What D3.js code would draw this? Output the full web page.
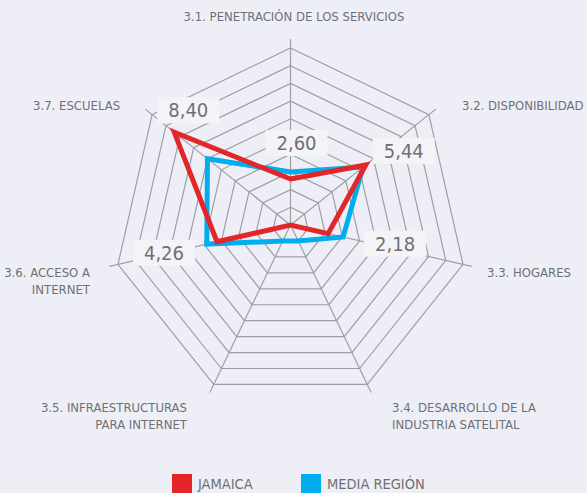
<!DOCTYPE html>
<html><head><meta charset="utf-8">
<script src="https://cdn.jsdelivr.net/npm/d3@7"></script>
<style>
html,body{margin:0;padding:0;background:#eeeff6;}
svg{display:block;}
text{font-family:"DejaVu Sans Condensed","DejaVu Sans",sans-serif;fill:#6e6f75;}
</style></head>
<body>
<svg id="chart" width="587" height="493"></svg>
<script>
// ---- data ----
const categories = [
  ["3.1. PENETRACIÓN DE LOS SERVICIOS"],
  ["3.2. DISPONIBILIDAD"],
  ["3.3. HOGARES"],
  ["3.4. DESARROLLO DE LA", "INDUSTRIA SATELITAL"],
  ["3.5. INFRAESTRUCTURAS", "PARA INTERNET"],
  ["3.6. ACCESO A", "INTERNET"],
  ["3.7. ESCUELAS"]
];
const jamaica = [2.60, 5.44, 2.18, 0, 0, 4.26, 8.40];
const mediaRegion = [3.0, 5.25, 3.05, 1.0, 1.0, 4.85, 6.0];
const seriesNames = ["JAMAICA", "MEDIA REGIÓN"];
const levels = d3.range(1, 11);

// ---- layout ----
const W = 587, H = 493;
const cx = 290.5, cy = 225, R = 177;
const colors = ["#e3262a", "#00aeef"];
// category label anchor points [x, y, anchor]
const catLayout = [
  [294, 21, "middle"],
  [462, 110, "start"],
  [487, 277, "start"],
  [392, 412, "start"],
  [187, 412, "end"],
  [90, 277, "end"],
  [33, 110, "start"]
];
// value label offsets relative to data point
const valOffset = [[6, -36], [38, -14], [67, 10], [0, 0], [0, 0], [-53, 11], [14, -22]];

const svg = d3.select("#chart");
const n = categories.length;
const r = d3.scaleLinear().domain([0, 10]).range([0, R]);
const ang = d3.scaleLinear().domain([0, n]).range([0, 2 * Math.PI]);
const pt = (i, v) => [cx + r(v) * Math.sin(ang(i)), cy - r(v) * Math.cos(ang(i))];

const grid = svg.append("g").attr("stroke", "#9e9fa4").attr("stroke-width", 1.2).attr("fill", "none");
levels.forEach(l => {
  grid.append("path").attr("d", d3.line()(d3.range(n).map(i => pt(i, l))) + "Z");
});
d3.range(n).forEach(i => {
  const [x1, y1] = pt(i, 0), [x2, y2] = pt(i, 10.5);
  grid.append("line").attr("x1", x1).attr("y1", y1).attr("x2", x2).attr("y2", y2);
});

// value labels (Jamaica)
const vl = svg.append("g");
jamaica.forEach((v, i) => {
  if (v <= 0) return;
  const [px, py] = pt(i, v);
  const x = px + valOffset[i][0], y = py + valOffset[i][1];
  const g = vl.append("g");
  g.append("rect").attr("x", x - 31).attr("y", y - 13).attr("width", 62).attr("height", 26).attr("fill", "#f4f4f8");
  g.append("text").attr("x", x).attr("y", y + 7).attr("text-anchor", "middle")
    .attr("font-size", 20).text(d3.format(".2f")(v).replace(".", ","));
});

// series
const line = d3.line();
[mediaRegion, jamaica].forEach((s, k) => {
  const col = k === 0 ? colors[1] : colors[0];
  svg.append("path").attr("d", line(s.map((v, i) => pt(i, v))) + "Z")
    .attr("fill", "none").attr("stroke", col).attr("stroke-width", 5)
    .attr("stroke-linejoin", "miter").attr("stroke-miterlimit", 10);
});

// category labels
categories.forEach((lines, i) => {
  const [x, y, a] = catLayout[i];
  const t = svg.append("text").attr("x", x).attr("y", y).attr("text-anchor", a).attr("font-size", 13);
  lines.forEach((s, j) => t.append("tspan").attr("x", x).attr("dy", j === 0 ? 0 : 17).text(s));
});

// legend
const legX = [172, 301];
seriesNames.forEach((name, k) => {
  svg.append("rect").attr("x", legX[k]).attr("y", 474).attr("width", 20).attr("height", 20).attr("fill", colors[k]);
  svg.append("text").attr("x", legX[k] + 26).attr("y", 489).attr("font-size", 14.5).text(name);
});
</script>
</body></html>
